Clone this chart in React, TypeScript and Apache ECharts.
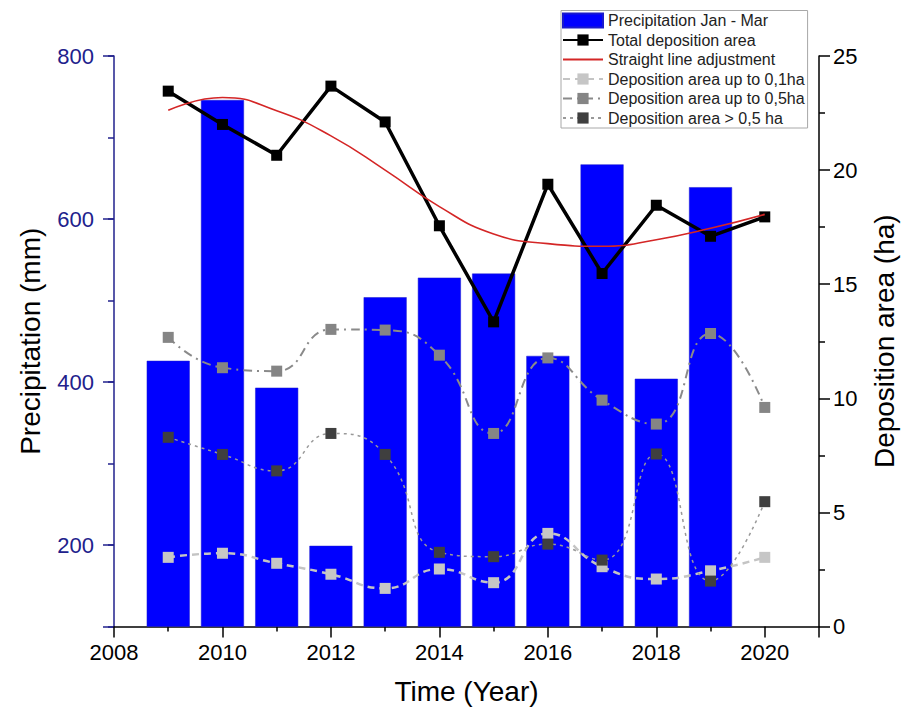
import React, { useEffect, useRef } from "react";
import * as echarts from "echarts";

const years = [2009, 2010, 2011, 2012, 2013, 2014, 2015, 2016, 2017, 2018, 2019, 2020];
const barYears = [2009, 2010, 2011, 2012, 2013, 2014, 2015, 2016, 2017, 2018, 2019];
const precipitation = [426, 746, 393, 199, 504, 528, 533, 432, 667, 404, 639];
const totalArea = [23.46, 22.0, 20.65, 23.68, 22.11, 17.56, 13.35, 19.38, 15.47, 18.46, 17.1, 17.95];
const fitLine = [22.62, 23.18, 22.6, 21.5, 20.0, 18.4, 17.2, 16.78, 16.66, 16.95, 17.45, 18.06];
const areaUpTo01 = [3.03, 3.21, 2.77, 2.29, 1.67, 2.52, 1.92, 4.08, 2.62, 2.08, 2.44, 3.03];
const areaUpTo05 = [12.67, 11.34, 11.19, 13.02, 12.99, 11.89, 8.46, 11.77, 9.92, 8.87, 12.84, 9.6];
const areaOver05 = [8.29, 7.54, 6.82, 8.46, 7.54, 3.25, 3.06, 3.61, 2.91, 7.56, 1.99, 5.47];

const names = [
  "Precipitation Jan - Mar",
  "Total deposition area",
  "Straight line adjustment",
  "Deposition area up to 0,1ha",
  "Deposition area up to 0,5ha",
  "Deposition area > 0,5 ha",
];

const FONT = "Liberation Sans, Arial, sans-serif";
const NAVY = "#21218c";
const CLEAR = "rgba(0,0,0,0)";

const pair = (xs: number[], ys: number[]) => xs.map((x, i) => [x, ys[i]]);

export default function App() {
  const ref = useRef<HTMLDivElement>(null);
  useEffect(() => {
    if (!ref.current) return;
    const chart = echarts.init(ref.current, undefined, { renderer: "svg" });
    chart.setOption({
      animation: false,
      backgroundColor: "#fff",
      textStyle: { fontFamily: FONT },
      grid: { left: 114, right: 88, top: 56, bottom: 90.5, containLabel: false },
      legend: {
        orient: "vertical",
        left: 561,
        top: 10.5,
        itemWidth: 40,
        itemHeight: 14,
        itemGap: 3.5,
        padding: [2, 3, 2, 1],
        backgroundColor: "#fff",
        borderColor: "#a8a8a8",
        borderWidth: 1,
        textStyle: { fontFamily: FONT, fontSize: 16, color: "#222", lineHeight: 16 },
        data: [
          { name: names[0], icon: "rect" },
          { name: names[1] },
          { name: names[2], itemStyle: { color: CLEAR, borderColor: CLEAR, borderWidth: 0 } },
          { name: names[3] },
          { name: names[4] },
          { name: names[5] },
        ],
      },
      xAxis: {
        type: "value",
        min: 2008,
        max: 2021,
        interval: 2,
        axisLine: { show: true, onZero: false, lineStyle: { color: "#000", width: 1.5 } },
        axisTick: { show: true, length: 11, lineStyle: { color: "#000", width: 1.5 } },
        minorTick: { show: true, splitNumber: 2, length: 5, lineStyle: { color: "#000", width: 1.5 } },
        splitLine: { show: false },
        axisLabel: {
          color: "#000",
          fontSize: 22,
          margin: 15,
          formatter: (v: number) => (v === 2021 ? "" : String(v)),
        },
        name: "Time (Year)",
        nameLocation: "middle",
        nameGap: 51,
        nameTextStyle: { color: "#000", fontSize: 28, fontFamily: FONT },
      },
      yAxis: [
        {
          type: "value",
          position: "left",
          min: 100,
          max: 800,
          splitNumber: 4,
          minInterval: 200,
          maxInterval: 200,
          axisLine: { show: true, lineStyle: { color: NAVY, width: 1.5 } },
          axisTick: { show: true, length: 11, lineStyle: { color: NAVY, width: 1.5 } },
          splitLine: { show: false },
          axisLabel: {
            color: NAVY,
            fontSize: 22,
            margin: 20,
            formatter: (v: number) => (v === 100 ? "" : String(v)),
          },
          name: "Precipitation (mm)",
          nameLocation: "middle",
          nameGap: 70,
          nameTextStyle: { color: "#000", fontSize: 28, fontFamily: FONT },
        },
        {
          type: "value",
          position: "left",
          min: 100,
          max: 800,
          interval: 100,
          axisLine: { show: false },
          axisTick: { show: true, length: 6, lineStyle: { color: NAVY, width: 1.5 } },
          axisLabel: { show: false },
          splitLine: { show: false },
        },
        {
          type: "value",
          position: "right",
          min: 0,
          max: 25,
          interval: 5,
          axisLine: { show: true, lineStyle: { color: "#000", width: 1.5 } },
          axisTick: { show: true, length: 11, lineStyle: { color: "#000", width: 1.5 } },
          minorTick: { show: true, splitNumber: 2, length: 6, lineStyle: { color: "#000", width: 1.5 } },
          splitLine: { show: false },
          axisLabel: { color: "#000", fontSize: 22, margin: 14 },
          name: "Deposition area (ha)",
          nameLocation: "middle",
          nameGap: 51,
          nameTextStyle: { color: "#000", fontSize: 28, fontFamily: FONT },
        },
      ],
      series: [
        {
          name: names[0],
          type: "bar",
          xAxisIndex: 0,
          yAxisIndex: 0,
          barWidth: 43,
          itemStyle: { color: "#0000ff", borderColor: "#1a1acc", borderWidth: 0.5 },
          data: pair(barYears, precipitation),
          z: 1,
        },
        {
          name: names[1],
          type: "line",
          yAxisIndex: 2,
          symbol: "rect",
          symbolSize: 11,
          lineStyle: { color: "#000", width: 3.5 },
          itemStyle: { color: "#000" },
          data: pair(years, totalArea),
          z: 6,
        },
        {
          name: names[2],
          type: "line",
          yAxisIndex: 2,
          smooth: true,
          symbol: "none",
          showSymbol: false,
          lineStyle: { color: "#d42626", width: 1.6 },
          itemStyle: { color: "#d42626" },
          data: pair(years, fitLine),
          z: 7,
        },
        {
          name: names[3],
          type: "line",
          yAxisIndex: 2,
          smooth: 0.5,
          symbol: "rect",
          symbolSize: 11,
          lineStyle: { color: "#c4c4c4", width: 2.5, type: [7, 5] },
          itemStyle: { color: "#c6c6c6" },
          data: pair(years, areaUpTo01),
          z: 4,
        },
        {
          name: names[4],
          type: "line",
          yAxisIndex: 2,
          smooth: 0.5,
          symbol: "rect",
          symbolSize: 11,
          lineStyle: { color: "#8a8a8a", width: 2, type: [9, 5, 2, 5] },
          itemStyle: { color: "#858585" },
          data: pair(years, areaUpTo05),
          z: 4,
        },
        {
          name: names[5],
          type: "line",
          yAxisIndex: 2,
          smooth: 0.5,
          symbol: "rect",
          symbolSize: 11,
          lineStyle: { color: "#999999", width: 1.5, type: [3, 4] },
          itemStyle: { color: "#3f3f3f" },
          data: pair(years, areaOver05),
          z: 4,
        },
      ],
    });
    return () => chart.dispose();
  }, []);
  return (
    <div
      ref={ref}
      style={{ position: "fixed", left: 0, top: 0, width: 907, height: 717, background: "#fff" }}
    />
  );
}
